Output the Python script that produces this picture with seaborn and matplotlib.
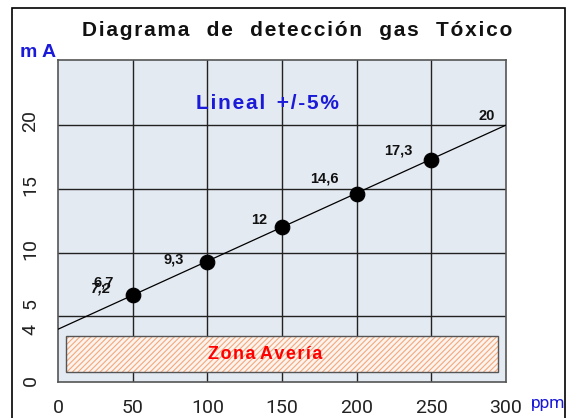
import matplotlib
matplotlib.use("Agg")
import matplotlib.pyplot as plt
import matplotlib.patches as mpatches
import matplotlib.transforms as mtransforms
import seaborn as sns
import pandas as pd

# DATA
ppm_puntos = [50, 100, 150, 200, 250]
ma_puntos = [6.7, 9.3, 12, 14.6, 17.3]
etiquetas = ["6,7", "9,3", "12", "14,6", "17,3"]
ppm_recta = [0, 300]
ma_recta = [4, 20]
etiqueta_final = "20"
etiqueta_extra = "7,2"
zona_ppm = [5, 295]
zona_ma = [0.6, 3.5]
xticks = [0, 50, 100, 150, 200, 250, 300]
yticks = [0, 4, 5, 10, 15, 20]

df_puntos = pd.DataFrame({"ppm": ppm_puntos, "mA": ma_puntos})
df_recta = pd.DataFrame({"ppm": ppm_recta, "mA": ma_recta})

sns.set_style("white")
plt.rcParams["font.family"] = ["Liberation Sans", "DejaVu Sans"]
plt.rcParams["hatch.linewidth"] = 0.8


def espaciar(texto, sep="\u200a"):
    # letras un poco separadas, como en el original
    return sep.join(texto)


fig = plt.figure(figsize=(5.76, 4.18), dpi=100)
ax = fig.add_axes([0.101, 0.086, 0.777, 0.770])
ax.set_facecolor("#e4eaf2")

# recta y puntos
sns.lineplot(data=df_recta, x="ppm", y="mA", ax=ax, color="black", linewidth=0.9, zorder=3)
sns.scatterplot(data=df_puntos, x="ppm", y="mA", ax=ax, color="black", s=110,
                edgecolor="black", zorder=4)

# etiquetas de valores
desplaz = [(-29, 12), (-34, 2), (-23, 7), (-32, 16), (-33, 9)]
for x, y, t, d in zip(ppm_puntos, ma_puntos, etiquetas, desplaz):
    ax.annotate(t, (x, y), xytext=d, textcoords="offset pixels", ha="center", va="center",
                fontsize=10.5, fontweight="bold", color="#111111")
ax.annotate(etiqueta_extra, (ppm_puntos[0], ma_puntos[0]), xytext=(-32, 6), textcoords="offset pixels",
            ha="center", va="center", fontsize=10.5, fontweight="bold", color="#111111", style="italic")
ax.annotate(etiqueta_final, (ppm_recta[1], ma_recta[1]), xytext=(-19, 9), textcoords="offset pixels",
            ha="center", va="center", fontsize=10.5, fontweight="bold", color="#111111")

# zona averia
rect_h = mpatches.Rectangle((zona_ppm[0], zona_ma[0]), zona_ppm[1] - zona_ppm[0], zona_ma[1] - zona_ma[0],
                            facecolor="#fbf3ee", edgecolor="#f5a87c", hatch="//////", linewidth=0, zorder=2)
ax.add_patch(rect_h)
rect_b = mpatches.Rectangle((zona_ppm[0], zona_ma[0]), zona_ppm[1] - zona_ppm[0], zona_ma[1] - zona_ma[0],
                            facecolor="none", edgecolor="#555555", linewidth=1.0, zorder=2.5)
ax.add_patch(rect_b)
ax.text(139, sum(zona_ma) / 2 - 0.05, espaciar("Zona") + " " + espaciar("Avería"),
        color="red", fontsize=13, fontweight="bold", ha="center", va="center", zorder=5)

ax.text(140, 21.7, espaciar("Lineal") + "  " + espaciar("+/-5%"), color="#1a1ad8", fontsize=15,
        fontweight="bold", ha="center", va="center")

# ejes
ax.set_xlim(0, 300)
ax.set_ylim(-0.15, 25.1)
ax.set_xticks(xticks)
ax.set_yticks(yticks)
ax.set_xlabel("")
ax.set_ylabel("")
ax.tick_params(axis="both", direction="out", length=10, width=1, color="#222222",
               labelsize=14, labelcolor="#222222")
ax.tick_params(axis="x", pad=2)
for lab in ax.get_xticklabels() + ax.get_yticklabels():
    lab.set_family(["Roboto", "DejaVu Sans"])
for v, lab in zip(yticks, ax.get_yticklabels()):
    lab.set_rotation(90)
    lab.set_va("center")
    sube = 13 if v == 5 else (0 if v in (0, 4) else 4)
    lab.set_transform(lab.get_transform() + mtransforms.ScaledTranslation(0, sube / 100, fig.dpi_scale_trans))
ax.grid(True, color="#222222", linewidth=1.0)
for i, g in enumerate(ax.yaxis.get_gridlines()):
    if yticks[i] in (0, 4):
        g.set_visible(False)
for i, g in enumerate(ax.xaxis.get_gridlines()):
    if xticks[i] in (0, 300):
        g.set_visible(False)
for s in ax.spines.values():
    s.set_color("#555555")
    s.set_linewidth(1.2)

# textos de figura
titulo = "   ".join(espaciar(w) for w in "Diagrama de detección gas Tóxico".split())
fig.text(0.516, 0.928, titulo, ha="center", va="center",
         fontsize=15, fontweight="bold", color="#111111")
fig.text(0.066, 0.875, "m A", ha="center", va="center", fontsize=14, fontweight="bold", color="#1a1ad8")
fig.text(0.952, 0.034, "ppm", ha="center", va="center", fontsize=12.5, color="#1a1ad8",
         family=["Roboto", "DejaVu Sans"])

# marco exterior
fig.patches.append(mpatches.Rectangle((12 / 576, -0.02), 553 / 576, 1.0, transform=fig.transFigure,
                                      fill=False, edgecolor="black", linewidth=1.2))

fig.savefig("out.png", dpi=100)
